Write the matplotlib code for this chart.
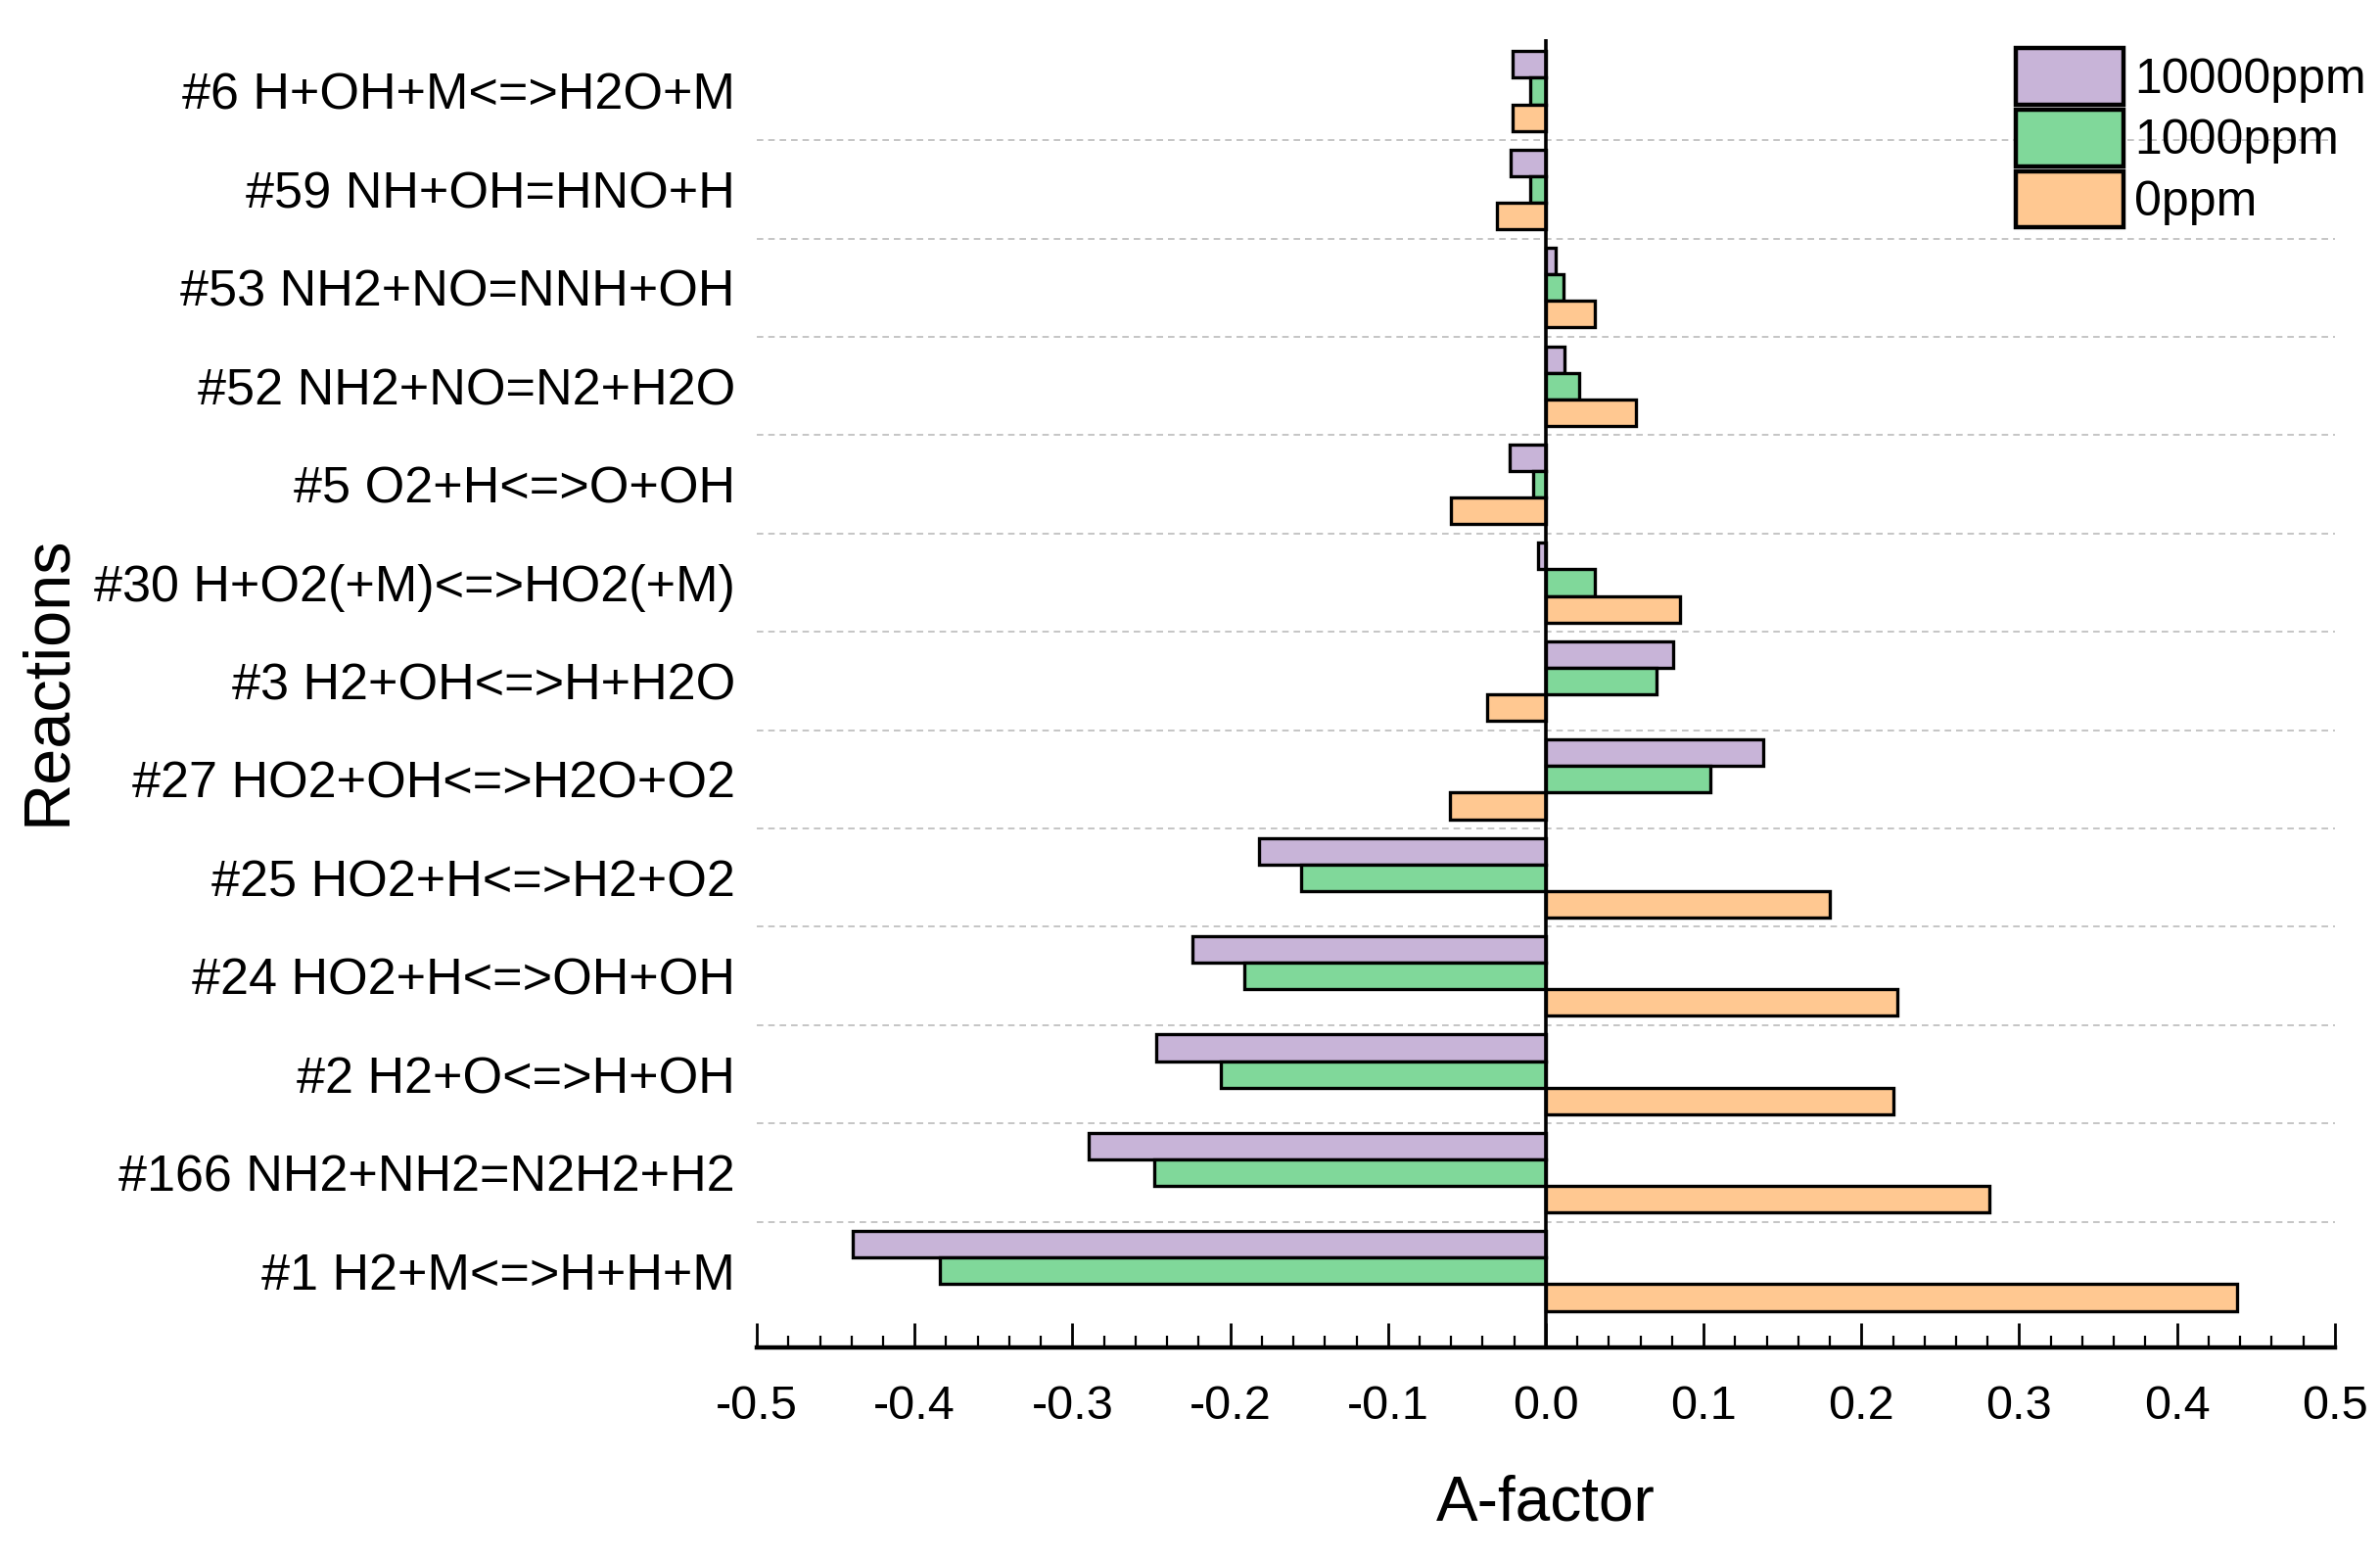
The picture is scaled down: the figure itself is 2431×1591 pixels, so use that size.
import numpy as np
import matplotlib.pyplot as plt
from matplotlib.ticker import MultipleLocator

# reactions, listed from the bottom of the chart to the top
reactions = [
    "#1 H2+M<=>H+H+M",
    "#166 NH2+NH2=N2H2+H2",
    "#2 H2+O<=>H+OH",
    "#24 HO2+H<=>OH+OH",
    "#25 HO2+H<=>H2+O2",
    "#27 HO2+OH<=>H2O+O2",
    "#3 H2+OH<=>H+H2O",
    "#30 H+O2(+M)<=>HO2(+M)",
    "#5 O2+H<=>O+OH",
    "#52 NH2+NO=N2+H2O",
    "#53 NH2+NO=NNH+OH",
    "#59 NH+OH=HNO+H",
    "#6 H+OH+M<=>H2O+M",
]

a_10000 = [-0.439, -0.290, -0.247, -0.224, -0.182, 0.138, 0.081, -0.005, -0.023, 0.012, 0.006, -0.022, -0.021]
a_1000 = [-0.384, -0.248, -0.206, -0.191, -0.155, 0.104, 0.070, 0.031, -0.008, 0.021, 0.011, -0.010, -0.010]
a_0 = [0.438, 0.281, 0.220, 0.223, 0.180, -0.061, -0.037, 0.085, -0.060, 0.057, 0.031, -0.031, -0.021]

series_labels = ["10000ppm", "1000ppm", "0ppm"]
colors = ["#c8b4d8", "#80d89a", "#ffc891"]

xticks = [-0.5, -0.4, -0.3, -0.2, -0.1, 0.0, 0.1, 0.2, 0.3, 0.4, 0.5]
xticklabels = ["-0.5", "-0.4", "-0.3", "-0.2", "-0.1", "0.0", "0.1", "0.2", "0.3", "0.4", "0.5"]

plt.rcParams['font.family'] = ['Liberation Sans', 'DejaVu Sans']

fig = plt.figure(figsize=(24.31, 15.91), dpi=100)
ax = fig.add_axes([0.318, 0.135, 0.663, 0.84])

y = np.arange(len(reactions))
h = 0.27
for vals, off, c, lab in zip([a_10000, a_1000, a_0], [h, 0, -h], colors, series_labels):
    ax.barh(y + off, vals, height=h, color=c, edgecolor="black", linewidth=2.4, label=lab, zorder=3)

# dashed separators between reactions
for i in range(len(reactions) - 1):
    ax.axhline(i + 0.5, color="#bbbbbb", linestyle=(0, (4, 3)), linewidth=1.2, zorder=1)

ax.axvline(0, color="black", linewidth=2.6, zorder=4)

ax.set_xlim(-0.5, 0.5)
ax.set_ylim(-0.78, len(reactions) - 0.47)

for s in ["top", "right", "left"]:
    ax.spines[s].set_visible(False)
ax.spines["bottom"].set_linewidth(3.2)

ax.set_xticks(xticks)
ax.set_xticklabels(xticklabels)
ax.xaxis.set_minor_locator(MultipleLocator(0.02))
ax.tick_params(axis="x", which="major", direction="in", length=18, width=2, labelsize=35, pad=27)
ax.tick_params(axis="x", which="minor", direction="in", length=9, width=1.6)

ax.set_yticks(y)
ax.set_yticklabels(reactions)
ax.tick_params(axis="y", length=0, labelsize=37.5, pad=16)

ax.set_xlabel("A-factor", fontsize=46, labelpad=34)
ax.set_ylabel("Reactions", fontsize=48)
ax.yaxis.set_label_coords(-0.43, 0.51)

leg = ax.legend(loc="upper left", bbox_to_anchor=(0.798, 0.993), frameon=False, fontsize=36,
                handlelength=2.2, handleheight=1.4, labelspacing=0.1, handletextpad=0.22,
                borderpad=0, borderaxespad=0)
for p in leg.get_patches():
    p.set_linewidth(3.2)

fig.savefig("out.png", dpi=100)
